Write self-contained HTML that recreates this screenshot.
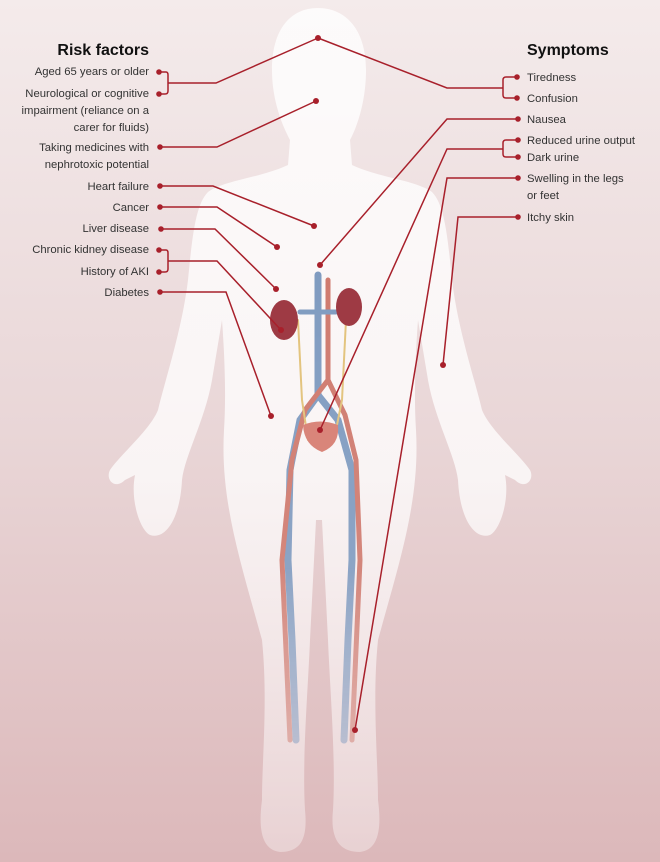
<!DOCTYPE html>
<html><head><meta charset="utf-8"><style>
html,body{margin:0;padding:0}
body{width:660px;height:862px;overflow:hidden;background:linear-gradient(#f4ebeb,#e9d6d7 50%,#dcb8ba);font-family:"Liberation Sans",sans-serif}
svg{position:absolute;left:0;top:0}
text{font-family:"Liberation Sans",sans-serif;font-size:11.3px;fill:#333}
.h{font-size:16px;font-weight:bold;fill:#111}
</style></head><body>
<svg width="660" height="862" viewBox="0 0 660 862">
<defs>
<linearGradient id="bd" x1="0" y1="0" x2="0" y2="1"><stop offset="0" stop-color="#fff" stop-opacity=".8"/><stop offset=".55" stop-color="#fff" stop-opacity=".75"/><stop offset="1" stop-color="#fff" stop-opacity=".35"/></linearGradient>
<linearGradient id="vf" x1="0" y1="0" x2="0" y2="1"><stop offset="0" stop-color="#fff" stop-opacity="1"/><stop offset=".55" stop-color="#fff" stop-opacity=".9"/><stop offset="1" stop-color="#fff" stop-opacity=".3"/></linearGradient>
<mask id="vm"><rect x="0" y="260" width="660" height="560" fill="url(#vf)"/></mask>
</defs>
<path fill="url(#bd)" d="M318 8 C290 8 272 30 272 70 C272 100 282 125 290 140 L288 165 C260 178 225 180 208 192 C195 205 192 240 188 280 C182 330 165 380 158 410 C150 430 120 455 110 470 C105 480 115 490 125 480 L135 475 C130 500 140 530 150 535 C165 540 180 520 182 480 C185 455 205 420 212 380 L222 320 C225 360 226 400 224 430 C220 500 240 560 262 640 C268 700 262 760 262 800 C258 830 262 850 280 852 C300 852 308 840 305 810 C302 760 308 690 310 640 L316 520 L322 520 L328 640 C330 690 336 760 333 810 C330 840 340 852 360 852 C378 850 382 830 378 800 C378 760 372 700 378 640 C400 560 420 500 416 430 C414 400 415 360 418 320 L428 380 C435 420 455 455 458 480 C460 520 475 540 490 535 C500 530 510 500 505 475 L515 480 C525 490 535 480 530 470 C520 455 490 430 482 410 C475 380 458 330 452 280 C448 240 445 205 432 192 C415 180 380 178 352 165 L350 140 C358 125 366 100 366 70 C366 30 346 8 318 8 Z"/>
<g fill="none" stroke-linecap="round" mask="url(#vm)">
<path d="M318 275 L318 395 L300 420 L290 470 L288 560 L292 640 L296 740" stroke="#7f9bc0" stroke-width="7"/>
<path d="M318 395 L338 420 L352 470 L352 560 L348 640 L344 740" stroke="#7f9bc0" stroke-width="7"/>
<path d="M328 280 L328 380 L305 410 L292 460 L282 560 L286 650 L290 740" stroke="#cf7a6e" stroke-width="5"/>
<path d="M328 380 L345 415 L356 460 L360 560 L356 650 L352 740" stroke="#cf7a6e" stroke-width="5"/>
<path d="M298 320 L302 400 L308 440 M346 320 L342 400 L334 440" stroke="#e2c27a" stroke-width="2"/>
<path d="M300 312 L336 312" stroke="#7f9bc0" stroke-width="5"/>
</g>
<ellipse cx="284" cy="320" rx="14" ry="20" fill="#9e3a44"/>
<ellipse cx="349" cy="307" rx="13" ry="19" fill="#9e3a44"/>
<path d="M303 425 Q320 418 338 425 Q340 445 322 452 Q304 445 303 425Z" fill="#d9857a"/>
<g fill="none" stroke="#a8202b" stroke-width="1.5">
<path d="M159 72 H166 Q168 72 168 75 V91 Q168 94 165 94 H159 M168 83 H216 L318 38"/>
<path d="M160 147 H217 L316 101"/>
<path d="M160 186 H213 L314 226"/>
<path d="M160 207 H217 L277 247"/>
<path d="M161 229 H215 L276 289"/>
<path d="M159 250 H166 Q168 250 168 253 V269 Q168 272 165 272 H159 M168 261 H217 L281 330"/>
<path d="M160 292 H226 L271 416"/>
<path d="M517 77 H506 Q503 77 503 80 V95 Q503 98 506 98 H517 M503 88 H447 L318 38"/>
<path d="M518 119 H447 L320 265"/>
<path d="M518 140 H506 Q503 140 503 143 V154 Q503 157 506 157 H518 M503 149 H447 L320 430"/>
<path d="M518 178 H447 L355 730"/>
<path d="M518 217 H458 L443 365"/>
</g>
<g fill="#a8202b">
<circle cx="159" cy="72" r="2.8"/><circle cx="159" cy="94" r="2.8"/><circle cx="318" cy="38" r="3"/>
<circle cx="160" cy="147" r="2.8"/><circle cx="316" cy="101" r="3"/>
<circle cx="160" cy="186" r="2.8"/><circle cx="314" cy="226" r="3"/>
<circle cx="160" cy="207" r="2.8"/><circle cx="277" cy="247" r="3"/>
<circle cx="161" cy="229" r="2.8"/><circle cx="276" cy="289" r="3"/>
<circle cx="159" cy="250" r="2.8"/><circle cx="159" cy="272" r="2.8"/><circle cx="281" cy="330" r="3"/>
<circle cx="160" cy="292" r="2.8"/><circle cx="271" cy="416" r="3"/>
<circle cx="517" cy="77" r="2.8"/><circle cx="517" cy="98" r="2.8"/>
<circle cx="518" cy="119" r="2.8"/><circle cx="320" cy="265" r="3"/>
<circle cx="518" cy="140" r="2.8"/><circle cx="518" cy="157" r="2.8"/><circle cx="320" cy="430" r="3"/>
<circle cx="518" cy="178" r="2.8"/><circle cx="355" cy="730" r="3"/>
<circle cx="518" cy="217" r="2.8"/><circle cx="443" cy="365" r="3"/>
</g>
<text class="h" x="149" y="55" text-anchor="end">Risk factors</text>
<g text-anchor="end">
<text x="149" y="75">Aged 65 years or older</text>
<text x="149" y="97">Neurological or cognitive</text>
<text x="149" y="114">impairment (reliance on a</text>
<text x="149" y="131">carer for fluids)</text>
<text x="149" y="151">Taking medicines with</text>
<text x="149" y="168">nephrotoxic potential</text>
<text x="149" y="190">Heart failure</text>
<text x="149" y="211">Cancer</text>
<text x="149" y="232">Liver disease</text>
<text x="149" y="253">Chronic kidney disease</text>
<text x="149" y="275">History of AKI</text>
<text x="149" y="296">Diabetes</text>
</g>
<text class="h" x="527" y="55">Symptoms</text>
<text x="527" y="81">Tiredness</text>
<text x="527" y="102">Confusion</text>
<text x="527" y="123">Nausea</text>
<text x="527" y="144">Reduced urine output</text>
<text x="527" y="161">Dark urine</text>
<text x="527" y="182">Swelling in the legs</text>
<text x="527" y="199">or feet</text>
<text x="527" y="221">Itchy skin</text>
</svg>
</body></html>
